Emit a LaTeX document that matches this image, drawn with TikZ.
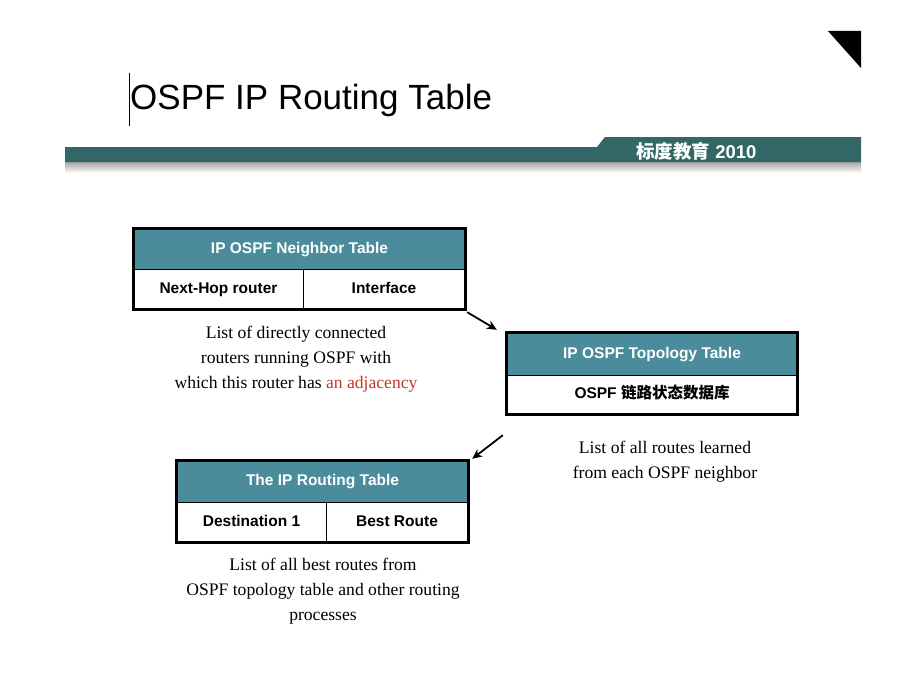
\documentclass[tikz,border=0pt]{standalone}
\usepackage{fontspec}
\setmainfont{Liberation Serif}
\setsansfont{Liberation Sans}
\newfontfamily\cjk{Noto Sans CJK SC}
\usetikzlibrary{arrows.meta}
\definecolor{band}{HTML}{336666}
\definecolor{head}{HTML}{4A8C9C}
\definecolor{adj}{HTML}{C0392B}
\begin{document}
\begin{tikzpicture}[x=1pt,y=-1pt,
  hdr/.style={fill=head, text=white, inner sep=0, text height=11.5pt, text depth=3.5pt, font=\sffamily\bfseries\fontsize{15.5}{17}\selectfont},
  cell/.style={fill=white, text=black, inner sep=0, text height=11.5pt, text depth=3.5pt, font=\sffamily\bfseries\fontsize{15.5}{17}\selectfont},
  frame/.style={draw=black, line width=2.8pt},
  divider/.style={draw=black, line width=0.8pt},
  desc/.style={font=\fontsize{17.6}{25}\selectfont, align=center, inner sep=0},
  link/.style={draw=black, line width=1.8pt, -{Stealth[length=10pt,width=9pt]}}
]
\useasboundingbox (0,0) rectangle (920,690);
\fill[white] (0,0) rectangle (920,690);

% corner triangle
\fill[black] (828,31) -- (861,31) -- (861,68) -- cycle;

% title
\draw[black, line width=0.6pt] (129,73) -- (129,126);
\node[anchor=west, inner sep=0, font=\sffamily\fontsize{35}{40}\selectfont] (title) at (130,100) {OSPF IP Routing Table};

% band
\shade[top color=black!35, bottom color=white] (65,162) rectangle (861,173);
\fill[band] (65,147) -- (597,147) -- (605,137) -- (861,137) -- (861,162) -- (65,162) -- cycle;
\node[anchor=west, inner sep=0, text=white, font=\sffamily\bfseries\fontsize{18.5}{20}\selectfont] (brand) at (636,151) {{\cjk\bfseries 标度教育} 2010};

% neighbor table
\node[hdr, minimum width=331, minimum height=40] (nh) at (299.5,249) {IP OSPF Neighbor Table};
\node[cell, minimum width=169, minimum height=40] (n1) at (218.5,289) {Next-Hop router};
\node[cell, minimum width=162, minimum height=40] (n2) at (384,289) {Interface};
\draw[divider] (n1.north east) -- (n1.south east);
\draw[divider] (nh.south west) -- (nh.south east);
\draw[frame] (nh.north west) rectangle (n2.south east);

% topology table
\node[hdr, minimum width=290, minimum height=42] (th) at (652,354) {IP OSPF Topology Table};
\node[cell, minimum width=290, minimum height=39] (t1) at (652,394.5) {OSPF {\cjk\bfseries 链路状态数据库}};
\draw[divider] (th.south west) -- (th.south east);
\draw[frame] (th.north west) rectangle (t1.south east);

% routing table
\node[hdr, minimum width=291, minimum height=41] (rh) at (322.5,481.5) {The IP Routing Table};
\node[cell, minimum width=149, minimum height=40] (r1) at (251.5,522) {Destination 1};
\node[cell, minimum width=142, minimum height=40] (r2) at (397,522) {Best Route};
\draw[divider] (r1.north east) -- (r1.south east);
\draw[divider] (rh.south west) -- (rh.south east);
\draw[frame] (rh.north west) rectangle (r2.south east);

% descriptions
\node[desc] (nd) at (296,359) {List of directly connected\\routers running OSPF with\\which this router has \textcolor{adj}{an adjacency}};
\node[desc] (td) at (665,462) {List of all routes learned\\from each OSPF neighbor};
\node[desc] (rd) at (323,591) {List of all best routes from\\OSPF topology table and other routing\\processes};

% connectors
\draw[link] ([shift={(2,3)}]n2.south east) -- ([shift={(-10,-3)}]th.north west);
\draw[link] ([shift={(-4,21)}]t1.south west) -- ([shift={(4,-2)}]rh.north east);
\end{tikzpicture}
\end{document}
